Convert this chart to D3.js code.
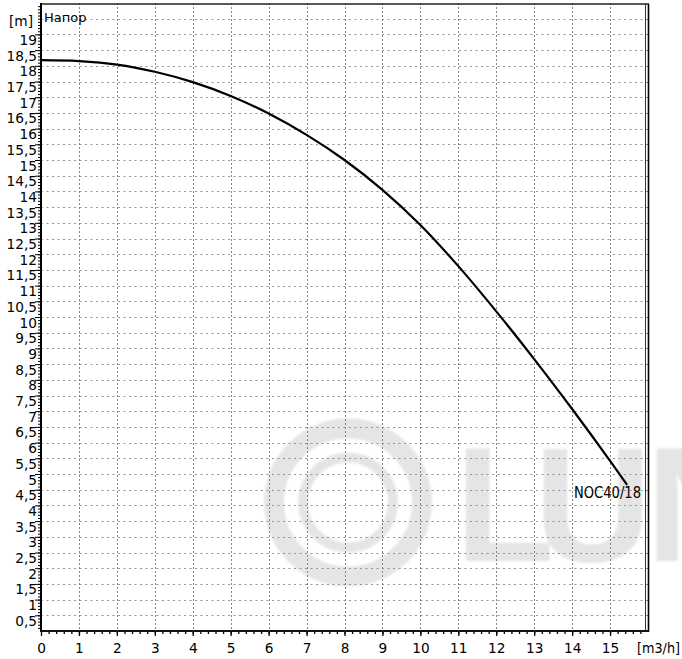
<!DOCTYPE html>
<html><head><meta charset="utf-8">
<script src="https://cdn.jsdelivr.net/npm/d3@7"></script>
<style>body{margin:0;background:#fff}svg{display:block}</style>
</head><body><svg id="c" width="682" height="659"></svg>
<script>
// ---- data ----
const flow = [0, 1, 2, 3, 4, 5, 6, 7, 8, 9, 10, 11, 12, 13, 14, 15, 15.45];
const head = [18.18, 18.15, 18.04, 17.81, 17.48, 17.04, 16.48, 15.80, 15.00, 14.05, 12.93, 11.62, 10.18, 8.66, 7.07, 5.42, 4.65];
const seriesName = "NOC40/18";
const xTickValues = [0,1,2,3,4,5,6,7,8,9,10,11,12,13,14,15];
const xTickLabels = ["0","1","2","3","4","5","6","7","8","9","10","11","12","13","14","15"];
const yTickValues = [0.5,1,1.5,2,2.5,3,3.5,4,4.5,5,5.5,6,6.5,7,7.5,8,8.5,9,9.5,10,10.5,11,11.5,12,12.5,13,13.5,14,14.5,15,15.5,16,16.5,17,17.5,18,18.5,19];
const yTickLabels = ["0,5","1","1,5","2","2,5","3","3,5","4","4,5","5","5,5","6","6,5","7","7,5","8","8,5","9","9,5","10","10,5","11","11,5","12","12,5","13","13,5","14","14,5","15","15,5","16","16,5","17","17,5","18","18,5","19"];
const yTitle = "[m]", xTitle = "[m3/h]", chartTitle = "Напор";
const watermarkText = ["L","U","N"];

// ---- layout ----
const svg = d3.select("#c");
const FONT = "DejaVu Sans, Verdana, sans-serif";
const x = d3.scaleLinear().domain([0, 16]).range([41, 648]);
const y = d3.scaleLinear().domain([0, 20]).range([631, 3]);

// watermark
const wm = svg.append("g").attr("fill", "#e5e5e5").attr("stroke", "#e5e5e5");
wm.append("defs").append("filter").attr("id","bl").append("feGaussianBlur").attr("stdDeviation", 0.8);
const wg = wm.append("g").attr("filter","url(#bl)");
wg.append("circle").attr("cx",348).attr("cy",502.5).attr("r",74).attr("fill","none").attr("stroke-width",20);
wg.append("circle").attr("cx",348).attr("cy",502.5).attr("r",45).attr("fill","none").attr("stroke-width",10);
const wmX = [455, 534, 646];
const wt = wg.append("text").attr("y",561).attr("stroke","none")
  .style("font-family","Liberation Sans, Arial, sans-serif").style("font-weight","bold").style("font-size","163px");
watermarkText.forEach((t,i)=> wt.append("tspan").attr("x", wmX[i]).text(t));

// grid
const grid = svg.append("g");
grid.selectAll("line.h").data(d3.range(1, 40).map(d => d / 2)).join("line")
  .attr("x1", x(0)).attr("x2", x(16)).attr("y1", d => Math.round(y(d)) + 0.5).attr("y2", d => Math.round(y(d)) + 0.5)
  .attr("stroke", "#949494").attr("stroke-width", 1).attr("stroke-dasharray", "2,3.5");
grid.selectAll("line.v").data(d3.range(1, 16)).join("line")
  .attr("y1", y(20)).attr("y2", y(0)).attr("x1", d => Math.round(x(d)) + 0.5).attr("x2", d => Math.round(x(d)) + 0.5)
  .attr("stroke", "#858585").attr("stroke-width", 1).attr("stroke-dasharray", "2,2");

// curve
const pts = flow.map((q, i) => [q, head[i]]);
svg.append("path").datum(pts)
  .attr("d", d3.line().x(d => x(d[0])).y(d => y(d[1])).curve(d3.curveCatmullRom.alpha(0.5)))
  .attr("fill", "none").attr("stroke", "#000").attr("stroke-width", 2.2);

// frame
svg.append("line").attr("x1", 41).attr("x2", 649).attr("y1", 4).attr("y2", 4).attr("stroke", "#222").attr("stroke-width", 1.5);
svg.append("line").attr("x1", 645.5).attr("x2", 645.5).attr("y1", 4).attr("y2", 631).attr("stroke", "#333").attr("stroke-width", 1);
svg.append("line").attr("x1", 648.5).attr("x2", 648.5).attr("y1", 4).attr("y2", 632).attr("stroke", "#000").attr("stroke-width", 1.6);

// y axis: minor ticks
const yMinor = d3.range(1, 200).map(d => d / 10);
svg.append("g").attr("transform", "translate(41,0)")
  .call(d3.axisLeft(y).tickValues(yMinor).tickSize(3).tickSizeOuter(0).tickFormat(""))
  .call(g => g.select(".domain").remove())
  .call(g => g.selectAll("line").attr("stroke", "#000").attr("stroke-width", 1));
// y axis: major ticks + labels
const yAx = svg.append("g").attr("transform", "translate(41,0)")
  .call(d3.axisLeft(y).tickValues(yTickValues).tickSize(6).tickSizeOuter(0)
    .tickFormat((d, i) => yTickLabels[i]))
  .call(g => g.select(".domain").remove());
yAx.selectAll("line").attr("stroke", "#000").attr("stroke-width", 1);
yAx.selectAll("text").attr("x", -4).attr("y", 10).attr("dy", 0)
  .attr("fill", "#000").style("font-family", FONT).style("font-size", "13.7px");

// x axis minor
const xMinor = d3.range(1, 80).map(d => d / 5);
svg.append("g").attr("transform", "translate(0,631)")
  .call(d3.axisBottom(x).tickValues(xMinor).tickSize(3).tickSizeOuter(0).tickFormat(""))
  .call(g => g.select(".domain").remove())
  .call(g => g.selectAll("line").attr("stroke", "#000").attr("stroke-width", 1.3));
const xAx = svg.append("g").attr("transform", "translate(0,631)")
  .call(d3.axisBottom(x).tickValues(xTickValues).tickSize(5).tickSizeOuter(0)
    .tickFormat((d, i) => xTickLabels[i]))
  .call(g => g.select(".domain").remove());
xAx.selectAll("line").attr("stroke", "#000").attr("stroke-width", 1.3);
xAx.selectAll("text").attr("y", 22).attr("dy", 0)
  .attr("fill", "#000").style("font-family", FONT).style("font-size", "13.7px");

// axis lines
svg.append("line").attr("x1", 41).attr("x2", 41).attr("y1", 3).attr("y2", 632).attr("stroke", "#000").attr("stroke-width", 2);
svg.append("line").attr("x1", 40).attr("x2", 649).attr("y1", 631).attr("y2", 631).attr("stroke", "#111").attr("stroke-width", 2);

// titles
svg.append("text").attr("x", 33).attr("y", 26).attr("text-anchor", "end")
  .style("font-family", FONT).style("font-size", "13.7px").text(yTitle);
svg.append("text").attr("x", 44).attr("y", 22)
  .style("font-family", FONT).style("font-size", "13px").text(chartTitle);
svg.append("text").attr("x", 637).attr("y", 653).attr("textLength", 43).attr("lengthAdjust", "spacingAndGlyphs")
  .style("font-family", FONT).style("font-size", "13.7px").text(xTitle);

// series label
svg.append("text").attr("x", 574).attr("y", 498).attr("textLength", 67).attr("lengthAdjust", "spacingAndGlyphs")
  .style("font-family", FONT).style("font-size", "15px").text(seriesName);
</script></body></html>
